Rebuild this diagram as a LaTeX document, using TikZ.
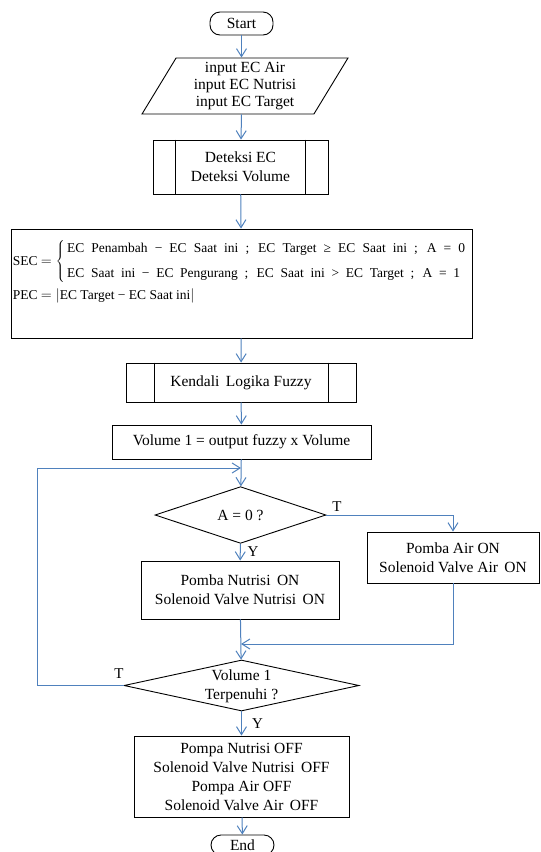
\documentclass[tikz,border=0pt]{standalone}
\usepackage{fontspec}
\setmainfont{Liberation Serif}
\usetikzlibrary{shapes.geometric,arrows.meta}
\definecolor{flowblue}{RGB}{79,129,189}
\begin{document}
\begin{tikzpicture}[x=1pt,y=-1pt,
  font=\fontsize{15.5}{19}\selectfont,
  box/.style={draw, line width=0.9pt, align=center, inner sep=0pt},
  term/.style={box, rounded corners=10pt},
  io/.style={box, trapezium, trapezium left angle=62, trapezium right angle=118, trapezium stretches=true},
  decision/.style={box, diamond},
  flow/.style={flowblue, line width=1pt, -{Straight Barb[length=8pt,width=10pt]}},
  lbl/.style={inner sep=0pt, font=\fontsize{15}{17}\selectfont}]
\useasboundingbox (0,0) rectangle (541,852);
% nodes
\node[term, minimum width=63, minimum height=23] (start) at (241.5,23.5) {Start};
\node[io, minimum width=206, minimum height=56, font=\fontsize{15.5}{17}\selectfont] (inp) at (245,86) {input EC Air\\input EC Nutrisi\\input EC Target};
\node[box, minimum width=175, minimum height=54] (det) at (240.5,167) {Deteksi EC\\Deteksi Volume};
\node[box, minimum width=461, minimum height=109] (sec) at (241.5,283.5) {};
\node[anchor=north west, inner sep=0pt, align=left, font=\fontsize{13.5}{16}\selectfont] (secTxt) at ([xshift=2pt,yshift=-12pt]sec.north west)
  {SEC $=\left\{\,\begin{tabular}{@{}l@{}}\makebox[398pt][s]{EC Penambah − EC Saat ini ; EC Target ≥ EC Saat ini ; A = 0}\\[9pt]
   \makebox[393pt][s]{EC Saat ini − EC Pengurang ; EC Saat ini > EC Target ; A = 1}\end{tabular}\right.$\\[5pt]
   PEC $=\left|\mbox{EC Target − EC Saat ini}\right|$};
\node[box, minimum width=230, minimum height=39] (fuz) at (241,382.5) {Kendali\, Logika Fuzzy};
\node[box, minimum width=259, minimum height=34] (vol) at (241.5,442) {Volume 1 = output fuzzy x Volume};
\node[decision, minimum width=171, minimum height=52] (dA) at (240.5,515) {A = 0 ?};
\node[box, minimum width=172, minimum height=51] (airon) at (453,557.5) {Pomba Air ON\\Solenoid Valve Air\, ON};
\node[box, minimum width=198, minimum height=58] (nut) at (240,590) {Pomba Nutrisi\, ON\\Solenoid Valve Nutrisi\, ON};
\node[decision, minimum width=235, minimum height=51] (dV) at (241.5,685.5) {};
\node[align=center, inner sep=0pt] (dVtxt) at (241.5,686) {Volume 1\\Terpenuhi ?};
\node[box, minimum width=215, minimum height=81] (off) at (241.5,776.5) {Pompa Nutrisi OFF\\Solenoid Valve Nutrisi\, OFF\\Pompa Air OFF\\Solenoid Valve Air\, OFF};
\node[term, minimum width=63, minimum height=20] (end) at (242.5,845) {End};
% inner lines of the sub-process boxes
\foreach \n/\d in {det/23, fuz/28.5} {
  \draw[line width=0.9pt] ([xshift=\d pt]\n.north west) -- ([xshift=\d pt]\n.south west);
  \draw[line width=0.9pt] ([xshift=-\d pt]\n.north east) -- ([xshift=-\d pt]\n.south east);
}
% junctions
\coordinate (jTop) at (241,468);
\coordinate (jBot) at (241,644);
\coordinate (loopL) at (37,468);
% connectors
\draw[flow] (start) -- (start |- inp.north);
\draw[flow] (start |- inp.south) -- (det);
\draw[flow] (det) -- (sec);
\draw[flow] (sec) -- (fuz);
\draw[flow] (fuz) -- (vol);
\draw[flow] (vol) -- (dA);
\draw[flow] (dA.east) -| (airon.north);
\draw[flow] (dA) -- (nut);
\draw[flow] (airon.south) |- (jBot);
\draw[flow] (nut) -- (dV);
\draw[flow] (dV.west) -| (loopL) -- (jTop);
\draw[flow] (dV) -- (off);
\draw[flow] (off) -- (end);
% labels
\node[lbl] (tA) at (337,506.5) {T};
\node[lbl] (yA) at (253,552) {Y};
\node[lbl] (tV) at (119,674) {T};
\node[lbl] (yV) at (257.5,723.5) {Y};
\end{tikzpicture}
\end{document}
